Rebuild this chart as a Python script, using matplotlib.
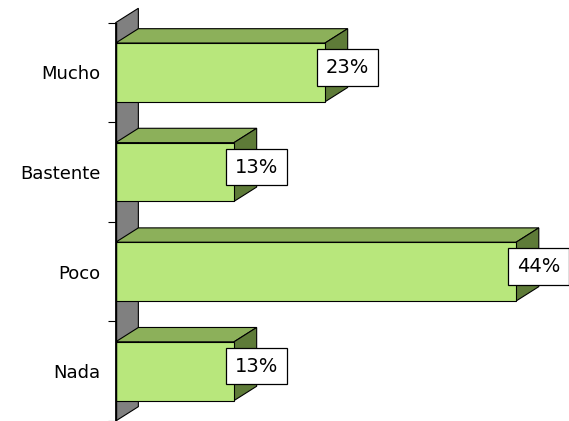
import matplotlib
matplotlib.use("Agg")
import matplotlib.pyplot as plt
from matplotlib.patches import Polygon

# data
categories = ["Nada", "Poco", "Bastente", "Mucho"]
values = [13, 44, 13, 23]
value_labels = ["13%", "44%", "13%", "23%"]

# 3d look
front_color = "#b8e77c"
top_color = "#8cb05a"
side_color = "#5e7b38"
wall_color = "#808080"
depth_x = 2.49   # in % units
depth_y = 0.144  # in category units
bar_h = 0.59

fig = plt.figure(figsize=(5.69, 4.21), dpi=100)
ax = fig.add_axes([115.7 / 569, 0, 1 - 115.7 / 569, 1])
ax.set_xlim(0, 49.81)
ax.set_ylim(-0.483, 3.727)
for s in ax.spines.values():
    s.set_visible(False)
ax.set_xticks([])

n = len(categories)
# back wall
wall = Polygon([(0, -0.5), (0, n - 0.5), (depth_x, n - 0.5 + depth_y), (depth_x, -0.5 + depth_y)],
               closed=True, facecolor=wall_color, edgecolor="black", lw=0.8, zorder=1, clip_on=False)
ax.add_patch(wall)
ax.plot([0, 0], [-0.5, n - 0.5], color="black", lw=1.0, zorder=5, clip_on=False)

for i, v in enumerate(values):
    lo, hi = i - bar_h / 2, i + bar_h / 2
    top = Polygon([(0, hi), (v, hi), (v + depth_x, hi + depth_y), (depth_x, hi + depth_y)],
                  closed=True, facecolor=top_color, edgecolor="black", lw=0.8, zorder=2)
    side = Polygon([(v, lo), (v + depth_x, lo + depth_y), (v + depth_x, hi + depth_y), (v, hi)],
                   closed=True, facecolor=side_color, edgecolor="black", lw=0.8, zorder=2)
    ax.add_patch(top)
    ax.add_patch(side)
    ax.barh(i, v, height=bar_h, left=0, color=front_color, edgecolor="black", lw=0.8, zorder=3)
    ax.text(v + depth_x, i + 0.05, value_labels[i], ha="center", va="center", fontsize=14,
            zorder=6, bbox=dict(boxstyle="square,pad=0.45", facecolor="white", edgecolor="black", lw=0.9))

ax.set_yticks(range(n))
ax.set_yticklabels(categories, fontsize=13)
ax.tick_params(axis="y", which="major", length=0, pad=11)
ax.set_yticks([k - 0.5 for k in range(n + 1)], minor=True)
ax.tick_params(axis="y", which="minor", length=5.5, width=0.8, color="black", direction="out")

fig.savefig("out.png", dpi=100, facecolor="white")
